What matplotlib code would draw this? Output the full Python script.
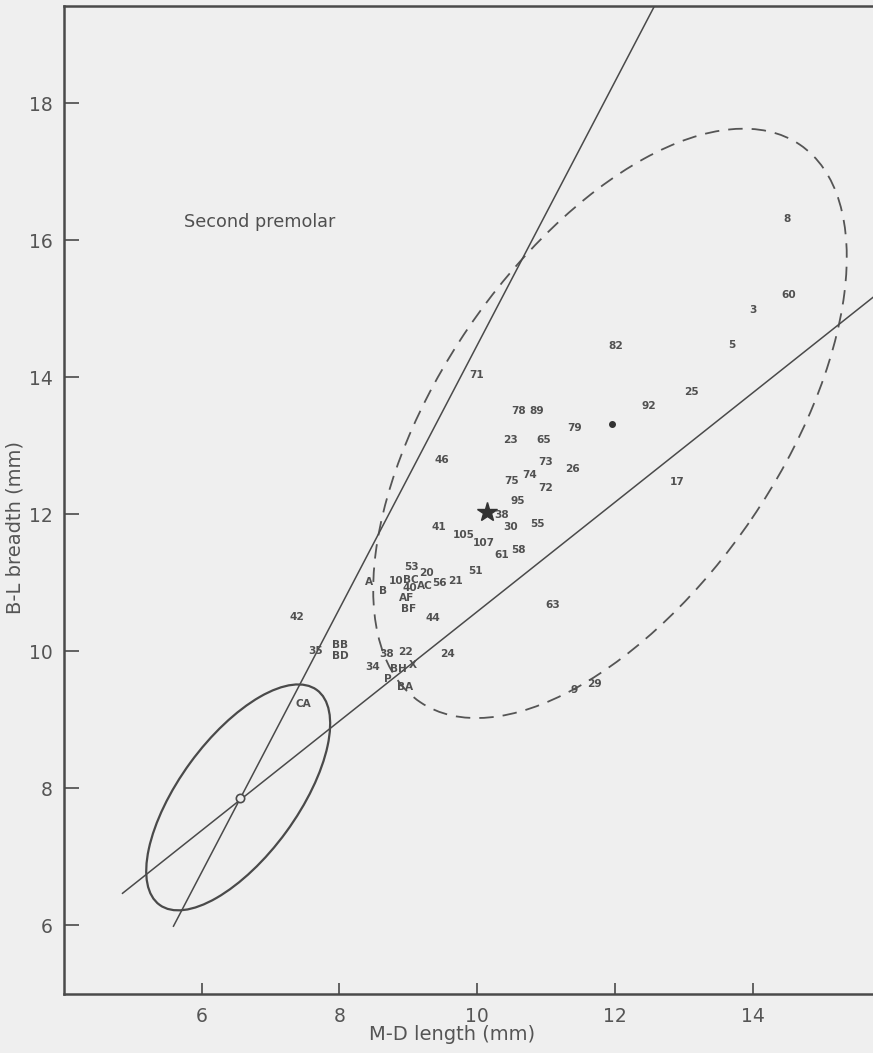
import matplotlib
matplotlib.use("Agg")
import matplotlib.pyplot as plt
from matplotlib.patches import Ellipse

# ---- data ----
labels = ["8", "60", "3", "5", "82", "25", "92", "79", "78", "89", "23", "65",
          "73", "26", "74", "75", "72", "17", "46", "71", "95", "38", "30", "55",
          "41", "105", "107", "61", "58", "51", "53", "20", "10", "BC", "40",
          "AC", "56", "21", "A", "B", "AF", "BF", "44", "42", "35", "BB", "BD",
          "38", "22", "24", "34", "BH", "X", "P", "BA", "63", "9", "29", "CA"]
md_length = [14.50, 14.53, 14.00, 13.70, 12.01, 13.11, 12.50, 11.41, 10.61, 10.87,
             10.48, 10.97, 11.00, 11.39, 10.77, 10.50, 10.99, 12.91, 9.49, 9.99,
             10.59, 10.36, 10.49, 10.87, 9.45, 9.80, 10.10, 10.36, 10.60, 9.97,
             9.05, 9.27, 8.83, 9.04, 9.02, 9.24, 9.46, 9.68, 8.43, 8.64, 8.98,
             9.00, 9.36, 7.38, 7.65, 8.01, 8.01, 8.69, 8.96, 9.57, 8.48, 8.85,
             9.06, 8.70, 8.96, 11.10, 11.41, 11.71, 7.47]
bl_breadth = [16.31, 15.20, 14.98, 14.48, 14.46, 13.79, 13.59, 13.26, 13.51, 13.51,
              13.09, 13.09, 12.77, 12.67, 12.57, 12.49, 12.38, 12.48, 12.79, 14.03,
              12.20, 11.99, 11.81, 11.86, 11.81, 11.70, 11.59, 11.41, 11.48, 11.18,
              11.23, 11.14, 11.03, 11.05, 10.92, 10.95, 11.00, 11.03, 11.01, 10.88,
              10.78, 10.62, 10.49, 10.51, 10.01, 10.10, 9.94, 9.97, 9.99, 9.97,
              9.78, 9.75, 9.81, 9.60, 9.48, 10.68, 9.44, 9.52, 9.24]

star_x, star_y = [10.15], [12.04]          # star marker
dot_x, dot_y = [11.96], [13.32]            # centre of the dashed ellipse
circ_x, circ_y = [6.55], [7.86]            # centre of the solid ellipse

# regression lines (end points)
steep_x, steep_y = [5.59, 12.58], [5.99, 19.43]
shallow_x, shallow_y = [4.85, 15.75], [6.47, 15.17]

# ellipses: centre, full width, full height, angle (deg)
small_ell = dict(center=(6.53, 7.87), width=3.88, height=1.72, angle=54.0)
large_ell = dict(center=(11.93, 13.33), width=9.83, height=4.97, angle=55.9)

x_ticks = [6, 8, 10, 12, 14]
y_ticks = [6, 8, 10, 12, 14, 16, 18]

# ---- drawing ----
ink = "#4a4a4a"
bg = "#efefef"
fig = plt.figure(figsize=(8.73, 10.53), dpi=100, facecolor=bg)
ax = fig.add_axes([64 / 873, 59 / 1053, 1 - 64 / 873, (994 - 5.5) / 1053])
ax.set_facecolor(bg)
ax.set_xlim(4.0, 15.75)
ax.set_ylim(5.0, 19.43)

ax.plot(steep_x, steep_y, color=ink, lw=1.1)
ax.plot(shallow_x, shallow_y, color=ink, lw=1.1)

ax.add_patch(Ellipse(small_ell["center"], small_ell["width"], small_ell["height"],
                     angle=small_ell["angle"], fill=False, ec=ink, lw=1.6))
ax.add_patch(Ellipse(large_ell["center"], large_ell["width"], large_ell["height"],
                     angle=large_ell["angle"], fill=False, ec="#555555", lw=1.3,
                     ls=(0, (8, 5))))

for lab, x, y in zip(labels, md_length, bl_breadth):
    ax.text(x, y, lab, ha="center", va="center", fontsize=7.6,
            fontweight="bold", color="#505050")

ax.plot(star_x, star_y, marker="*", ms=15, color="#333333", ls="none")
ax.plot(dot_x, dot_y, marker="o", ms=4, color="#333333", ls="none")
ax.plot(circ_x, circ_y, marker="o", ms=6, mfc=bg, mec=ink, mew=1.2, ls="none")

ax.text(5.75, 16.27, "Second premolar", ha="left", va="center",
        fontsize=12.7, color="#505050")

ax.set_xticks(x_ticks)
ax.set_yticks(y_ticks)
ax.tick_params(axis="x", direction="in", length=8, width=1.2, colors=ink,
               labelsize=13.5, pad=9)
ax.tick_params(axis="y", direction="in", length=11, width=1.2, colors=ink,
               labelsize=13.5, pad=8)
for lab in ax.get_xticklabels() + ax.get_yticklabels():
    lab.set_color("#555555")

for side in ["left", "bottom", "top"]:
    ax.spines[side].set_color(ink)
    ax.spines[side].set_linewidth(1.8)
ax.spines["right"].set_visible(False)

ax.set_xlabel("M-D length (mm)", fontsize=14, color="#555555")
ax.set_ylabel("B-L breadth (mm)", fontsize=14, color="#555555")
# place axis labels where the reference has them (pixel centres 452,1035 and 15,528)
ax.xaxis.set_label_coords((452 - 64) / 809, -(1035 - 994) / 988.5)
ax.yaxis.set_label_coords(-(64 - 15) / 809, (994 - 528) / 988.5)
ax.xaxis.label.set_va("center")
ax.yaxis.label.set_va("center")

fig.savefig("out.png", dpi=100, facecolor=bg)
